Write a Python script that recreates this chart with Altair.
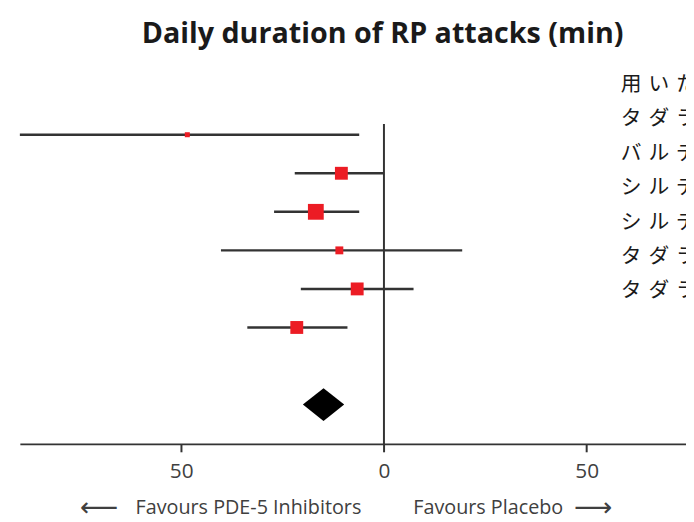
import altair as alt
import pandas as pd

# ---- data ----
estimates = [-48.5, -10.5, -16.8, -11.0, -6.6, -21.5]
ci_low = [-89.8, -22.0, -27.1, -40.2, -20.5, -33.7]
ci_high = [-6.1, 0.0, -6.1, 19.3, 7.3, -9.0]
weights = [1.6, 10.6, 16.0, 4.0, 10.6, 10.6]
pooled_est, pooled_low, pooled_high = -14.9, -20.0, -9.8
drug_labels = ["用いた薬剤", "タダラフィル", "バルデナフィル", "シルデナフィル",
               "シルデナフィル", "タダラフィル", "タダラフィル"]
tick_values = [-50, 0, 50]
title_text = "Daily duration of RP attacks (min)"
left_note = "Favours PDE-5 Inhibitors"
right_note = "Favours Placebo"

W, H = 674, 376
rows = list(range(1, len(estimates) + 1))
pooled_row = len(estimates) + 2
half_h = 0.423

df = pd.DataFrame({"row": rows, "est": estimates, "lo": ci_low, "hi": ci_high, "w": weights})
dia = pd.DataFrame({
    "x": [pooled_low, pooled_est, pooled_high],
    "y": [pooled_row, pooled_row - half_h, pooled_row],
    "y2": [pooled_row, pooled_row + half_h, pooled_row],
})
zero_df = pd.DataFrame({"x": [0.0], "y": [0.72], "y2": [9.02]})
lab_df = pd.DataFrame({"i": list(range(len(drug_labels))),
                       "label": ["\u2004".join(s) for s in drug_labels]})

xs = alt.Scale(domain=[-89.8, 74.5], nice=False, zero=False)
ys = alt.Scale(domain=[-0.62, 9.02], reverse=True, nice=False, zero=False)
dark = "#333333"

xaxis = alt.Axis(values=tick_values, labelExpr="abs(datum.value)", title=None, grid=False,
                 domainColor=dark, domainWidth=2, tickColor=dark, tickWidth=2, tickSize=8,
                 labelFont="Open Sans", labelFontSize=21, labelColor="#404040", labelPadding=9)

zero_line = alt.Chart(zero_df).mark_rule(color=dark, strokeWidth=2).encode(
    x=alt.X("x:Q", scale=xs, axis=xaxis),
    y=alt.Y("y:Q", scale=ys, axis=None), y2="y2:Q")

ci = alt.Chart(df).mark_rule(color=dark, strokeWidth=2.5).encode(
    x=alt.X("lo:Q", scale=xs), x2="hi:Q", y=alt.Y("row:Q", scale=ys, axis=None))

pts = alt.Chart(df).mark_point(shape="square", filled=True, opacity=1, color="#ec1c24").encode(
    x=alt.X("est:Q", scale=xs), y=alt.Y("row:Q", scale=ys, axis=None),
    size=alt.Size("w:Q", scale=alt.Scale(domain=[0, 16], range=[0, 256]), legend=None))

diamond = alt.Chart(dia).mark_area(color="black", opacity=1).encode(
    x=alt.X("x:Q", scale=xs), y=alt.Y("y:Q", scale=ys, axis=None), y2="y2:Q")

forest = alt.layer(zero_line, ci, pts, diamond)

labels = alt.Chart(lab_df).mark_text(align="left", baseline="middle", font="Noto Sans CJK JP",
                                     fontSize=21, color="#1a1a1a").encode(
    x=alt.value(608),
    y=alt.Y("i:Q", scale=alt.Scale(domain=[-0.374, 10.43], reverse=True, nice=False, zero=False),
            axis=None),
    text="label:N")


def note(txt, xpix, align, font, size):
    return alt.Chart(pd.DataFrame({"t": [txt]})).mark_text(
        align=align, baseline="middle", font=font, fontSize=size, color="#404040").encode(
        x=alt.value(xpix), y=alt.value(441), text="t:N")


notes = [
    note("\u27f5", 80, "center", "DejaVu Sans", 27),
    note(left_note, 117, "left", "Open Sans", 20),
    note(right_note, 398, "left", "Open Sans", 20),
    note("\u27f6", 580, "center", "DejaVu Sans", 27),
]

chart = alt.layer(forest, labels, *notes).resolve_scale(y="independent").properties(
    width=W, height=H,
    background="white",
    title=alt.TitleParams(title_text, font="Open Sans", fontSize=29, fontWeight="bold",
                          color="#1a1a1a", anchor="middle", dx=30, offset=24),
    autosize=alt.AutoSizeParams(type="none"),
    padding={"left": 12, "top": 62, "right": 0, "bottom": 76},
).configure_view(strokeWidth=0, stroke="transparent")

chart.save("out.html", embed_options={"renderer": "svg", "actions": False})
